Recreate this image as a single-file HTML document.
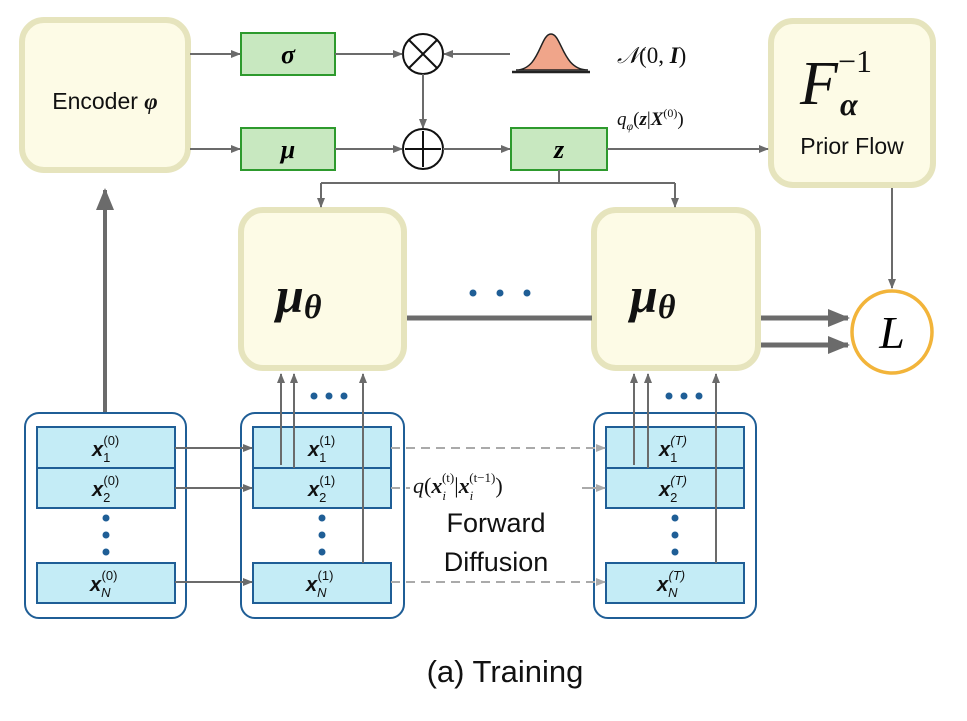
<!DOCTYPE html>
<html><head><meta charset="utf-8"><style>
html,body{margin:0;padding:0;background:#fff;}
svg{display:block;}
text{font-family:"Liberation Sans",sans-serif;}
.m{font-family:"Liberation Serif",serif;font-style:italic;}
.n{font-style:normal;font-weight:normal;}
</style></head><body>
<svg width="967" height="721" viewBox="0 0 967 721" xmlns="http://www.w3.org/2000/svg">
<defs>
<marker id="a" markerWidth="10" markerHeight="10" refX="9" refY="5" orient="auto" markerUnits="userSpaceOnUse"><path d="M0,1 L10,5 L0,9 z" fill="#6b6b6b"/></marker>
<marker id="al" markerWidth="10" markerHeight="10" refX="9" refY="5" orient="auto" markerUnits="userSpaceOnUse"><path d="M0,1 L10,5 L0,9 z" fill="#aaa"/></marker>
<marker id="ab" markerWidth="22" markerHeight="22" refX="20" refY="11" orient="auto" markerUnits="userSpaceOnUse"><path d="M0,2 L22,11 L0,20 z" fill="#6b6b6b"/></marker>
</defs>
<g fill="#fdfbe6" stroke="#e6e4bd" stroke-width="6">
<rect x="22" y="20" width="166" height="150" rx="22"/>
<rect x="771" y="21" width="162" height="164" rx="22"/>
<rect x="241" y="210" width="163" height="158" rx="22"/>
<rect x="594" y="210" width="164" height="158" rx="22"/>
</g>
<text x="105" y="109" font-size="23" fill="#111" text-anchor="middle">Encoder <tspan class="m" font-weight="bold">φ</tspan></text>
<text x="800" y="104" class="m" font-size="62" fill="#111">F</text>
<text x="838" y="72" class="m n" font-size="32" fill="#111">−1</text>
<text x="840" y="115" class="m" font-size="32" font-weight="bold" fill="#111">α</text>
<text x="852" y="154" font-size="23" fill="#111" text-anchor="middle">Prior Flow</text>
<text x="276" y="312" class="m" font-size="50" font-weight="bold" fill="#111">μ<tspan font-size="34" dy="6">θ</tspan></text>
<text x="630" y="312" class="m" font-size="50" font-weight="bold" fill="#111">μ<tspan font-size="34" dy="6">θ</tspan></text>
<g fill="#c8e8c0" stroke="#2d9a2d" stroke-width="2">
<rect x="241" y="33" width="94" height="42"/>
<rect x="241" y="128" width="94" height="42"/>
<rect x="511" y="128" width="96" height="42"/>
</g>
<text x="288" y="63" class="m" font-size="26" font-weight="bold" text-anchor="middle">σ</text>
<text x="288" y="158" class="m" font-size="26" font-weight="bold" text-anchor="middle">μ</text>
<text x="559" y="158" class="m" font-size="26" font-weight="bold" text-anchor="middle">z</text>
<g fill="#fff" stroke="#111" stroke-width="2">
<ellipse cx="423" cy="54" rx="20" ry="20"/>
<ellipse cx="423" cy="149" rx="20" ry="20"/>
</g>
<path d="M409,40 L437,68 M437,40 L409,68 M423,131 L423,167 M405,149 L441,149" stroke="#111" stroke-width="2"/>
<path d="M516,70 C540,70 540,34 551,34 C562,34 562,70 588,70 Z" fill="#f0a58a" stroke="#222" stroke-width="1.5"/>
<line x1="512" y1="72" x2="590" y2="72" stroke="#222" stroke-width="2.5"/>
<text x="617" y="63" class="m" font-size="23" fill="#111">𝒩<tspan class="n">(</tspan><tspan class="n" font-weight="bold">0</tspan><tspan class="n">, </tspan><tspan font-weight="bold">I</tspan><tspan class="n">)</tspan></text>
<text x="617" y="125" class="m" font-size="19" fill="#111">q<tspan font-size="12" dy="5">φ</tspan><tspan class="n" dy="-5">(</tspan><tspan font-weight="bold">z</tspan><tspan class="n">|</tspan><tspan font-weight="bold">X</tspan><tspan class="n" font-size="12" dy="-8">(0)</tspan><tspan class="n" dy="8">)</tspan></text>
<g stroke="#6b6b6b" stroke-width="2" fill="none">
<line x1="190" y1="54" x2="240" y2="54" marker-end="url(#a)"/>
<line x1="190" y1="149" x2="240" y2="149" marker-end="url(#a)"/>
<line x1="335" y1="54" x2="402" y2="54" marker-end="url(#a)"/>
<line x1="510" y1="54" x2="444" y2="54" marker-end="url(#a)"/>
<line x1="423" y1="74" x2="423" y2="128" marker-end="url(#a)"/>
<line x1="335" y1="149" x2="402" y2="149" marker-end="url(#a)"/>
<line x1="443" y1="149" x2="510" y2="149" marker-end="url(#a)"/>
<line x1="607" y1="149" x2="768" y2="149" marker-end="url(#a)"/>
<path d="M559,170 V183 M321,183 H675"/>
<line x1="321" y1="183" x2="321" y2="207" marker-end="url(#a)"/>
<line x1="675" y1="183" x2="675" y2="207" marker-end="url(#a)"/>
<line x1="892" y1="188" x2="892" y2="288" marker-end="url(#a)"/>
</g>
<line x1="407" y1="318" x2="592" y2="318" stroke="#6b6b6b" stroke-width="5"/>
<line x1="761" y1="318" x2="848" y2="318" stroke="#6b6b6b" stroke-width="5" marker-end="url(#ab)"/>
<line x1="761" y1="345" x2="848" y2="345" stroke="#6b6b6b" stroke-width="5" marker-end="url(#ab)"/>
<line x1="105" y1="413" x2="105" y2="190" stroke="#6b6b6b" stroke-width="4" marker-end="url(#ab)"/>
<g fill="#1f5e96"><circle cx="473" cy="293" r="3.5"/><circle cx="500" cy="293" r="3.5"/><circle cx="527" cy="293" r="3.5"/>
<circle cx="314" cy="396" r="3.5"/><circle cx="329" cy="396" r="3.5"/><circle cx="344" cy="396" r="3.5"/>
<circle cx="669" cy="396" r="3.5"/><circle cx="684" cy="396" r="3.5"/><circle cx="699" cy="396" r="3.5"/></g>
<ellipse cx="892" cy="332" rx="40" ry="41" fill="#fff" stroke="#f2b43a" stroke-width="3.5"/>
<text x="892" y="348" class="m" font-size="46" text-anchor="middle">L</text>
<g fill="#fff" stroke="#1f5e96" stroke-width="2">
<rect x="25" y="413" width="161" height="205" rx="14"/>
<rect x="241" y="413" width="163" height="205" rx="14"/>
<rect x="594" y="413" width="162" height="205" rx="14"/>
</g>
<g fill="#c4ecf6" stroke="#1f5e96" stroke-width="2">
<rect x="37" y="427" width="138" height="41"/><rect x="37" y="468" width="138" height="40"/><rect x="37" y="563" width="138" height="40"/>
<rect x="253" y="427" width="138" height="41"/><rect x="253" y="468" width="138" height="40"/><rect x="253" y="563" width="138" height="40"/>
<rect x="606" y="427" width="138" height="41"/><rect x="606" y="468" width="138" height="40"/><rect x="606" y="563" width="138" height="40"/>
</g>
<g fill="#1f5e96">
<circle cx="106" cy="518" r="3.5"/><circle cx="106" cy="535" r="3.5"/><circle cx="106" cy="552" r="3.5"/>
<circle cx="322" cy="518" r="3.5"/><circle cx="322" cy="535" r="3.5"/><circle cx="322" cy="552" r="3.5"/>
<circle cx="675" cy="518" r="3.5"/><circle cx="675" cy="535" r="3.5"/><circle cx="675" cy="552" r="3.5"/>
</g>
<g class="m" font-size="20" font-weight="bold" fill="#111">
<text x="92" y="456">x<tspan class="n" font-size="13" dy="6">1</tspan><tspan class="n" font-size="13" dx="-7" dy="-17">(0)</tspan></text>
<text x="92" y="496">x<tspan class="n" font-size="13" dy="6">2</tspan><tspan class="n" font-size="13" dx="-7" dy="-17">(0)</tspan></text>
<text x="90" y="591">x<tspan font-size="13" font-weight="normal" dy="6">N</tspan><tspan class="n" font-size="13" dx="-9" dy="-17">(0)</tspan></text>
<text x="308" y="456">x<tspan class="n" font-size="13" dy="6">1</tspan><tspan class="n" font-size="13" dx="-7" dy="-17">(1)</tspan></text>
<text x="308" y="496">x<tspan class="n" font-size="13" dy="6">2</tspan><tspan class="n" font-size="13" dx="-7" dy="-17">(1)</tspan></text>
<text x="306" y="591">x<tspan font-size="13" font-weight="normal" dy="6">N</tspan><tspan class="n" font-size="13" dx="-9" dy="-17">(1)</tspan></text>
<text x="659" y="456">x<tspan class="n" font-size="13" dy="6">1</tspan><tspan font-size="13" font-weight="normal" dx="-7" dy="-17">(T)</tspan></text>
<text x="659" y="496">x<tspan class="n" font-size="13" dy="6">2</tspan><tspan font-size="13" font-weight="normal" dx="-7" dy="-17">(T)</tspan></text>
<text x="657" y="591">x<tspan font-size="13" font-weight="normal" dy="6">N</tspan><tspan font-size="13" font-weight="normal" dx="-9" dy="-17">(T)</tspan></text>
</g>
<g stroke="#6b6b6b" stroke-width="2" fill="none">
<line x1="175" y1="448" x2="252" y2="448" marker-end="url(#a)"/>
<line x1="175" y1="488" x2="252" y2="488" marker-end="url(#a)"/>
<line x1="175" y1="582" x2="252" y2="582" marker-end="url(#a)"/>
<line x1="281" y1="465" x2="281" y2="374" marker-end="url(#a)"/>
<line x1="294" y1="468" x2="294" y2="374" marker-end="url(#a)"/>
<line x1="363" y1="563" x2="363" y2="374" marker-end="url(#a)"/>
<line x1="634" y1="465" x2="634" y2="374" marker-end="url(#a)"/>
<line x1="648" y1="468" x2="648" y2="374" marker-end="url(#a)"/>
<line x1="716" y1="563" x2="716" y2="374" marker-end="url(#a)"/>
</g>
<g stroke="#aaa" stroke-width="2" stroke-dasharray="9,6" fill="none">
<line x1="391" y1="448" x2="605" y2="448" marker-end="url(#al)"/>
<line x1="391" y1="582" x2="605" y2="582" marker-end="url(#al)"/>
</g>
<line x1="391" y1="488" x2="410" y2="488" stroke="#aaa" stroke-width="2" stroke-dasharray="9,6"/>
<line x1="582" y1="488" x2="605" y2="488" stroke="#aaa" stroke-width="2" marker-end="url(#al)"/>
<text x="413" y="493" class="m" font-size="22" fill="#111">q<tspan class="n">(</tspan><tspan font-weight="bold">x</tspan><tspan font-size="13" dy="7">i</tspan><tspan class="n" font-size="13" dx="-4" dy="-18">(t)</tspan><tspan class="n" dy="11">|</tspan><tspan font-weight="bold">x</tspan><tspan font-size="13" dy="7">i</tspan><tspan class="n" font-size="13" dx="-4" dy="-18">(t−1)</tspan><tspan class="n" dy="11">)</tspan></text>
<text x="496" y="532" font-size="27" text-anchor="middle" fill="#111">Forward</text>
<text x="496" y="571" font-size="27" text-anchor="middle" fill="#111">Diffusion</text>
<text x="505" y="682" font-size="31" text-anchor="middle" fill="#111">(a) Training</text>
</svg>
</body></html>
